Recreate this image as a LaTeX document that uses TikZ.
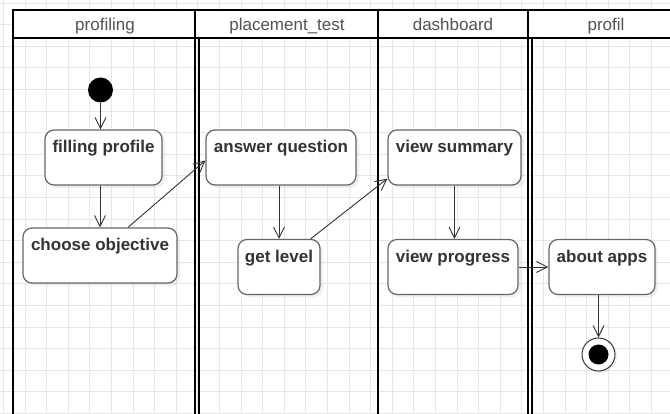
\documentclass[tikz,border=0pt]{standalone}
\usepackage{fontspec}
\setmainfont{Liberation Sans}
\usetikzlibrary{arrows.meta,shadows}

\definecolor{gridgray}{HTML}{E6E6E6}
\definecolor{boxgray}{HTML}{666666}
\definecolor{inkgray}{HTML}{333333}

\tikzset{
	lane/.style={line width=2pt},
	lanetitle/.style={font=\fontsize{17}{19}\selectfont, text=inkgray!85, anchor=base},
	act/.style={draw=boxgray, line width=1.2pt, fill=white, rounded corners=9pt,
		font=\fontsize{17}{19}\selectfont\bfseries, text=inkgray,
		inner ysep=0pt, text height=23pt, text depth=32pt,
		drop shadow={opacity=0.12, shadow xshift=3pt, shadow yshift=-3pt}},
	flow/.style={draw=inkgray, line width=0.9pt, -{Straight Barb[length=11pt,width=11pt]}}
}

\begin{document}
\begin{tikzpicture}[x=1pt,y=-1pt]
	\useasboundingbox (0,0) rectangle (670,414);
	% background grid
	\foreach \i in {0,...,31}
		\draw[gridgray, line width=0.8pt] ({3.4+21.6*\i},0) -- ++(0,414);
	\foreach \i in {0,...,19}
		\draw[gridgray, line width=0.8pt] (0,{3+21.6*\i}) -- ++(670,0);

	% header row
	\draw[lane, fill=white] (13,10.5) rectangle (690,38.5);
	\foreach \x in {195,378,528}
		\draw[lane] (\x,10.5) -- (\x,38.5);
	\node[lanetitle] (tprofiling) at (105,31) {profiling};
	\node[lanetitle] (tplacement) at (287,31) {placement\_test};
	\node[lanetitle] (tdashboard) at (453,31) {dashboard};
	\node[lanetitle] (tprofil) at (606,31) {profil};

	% lane borders
	\foreach \x in {13,195,199,378,528,531.5}
		\draw[lane] (\x,38.5) -- (\x,420);

	% start and end
	\node[circle, fill=black, minimum size=25pt, inner sep=0pt] (start) at (100.5,90) {};
	\node[circle, draw=inkgray, line width=1pt, fill=white, minimum size=33pt, inner sep=0pt,
		drop shadow={opacity=0.12, shadow xshift=2pt, shadow yshift=-2pt}] (end) at (598.5,354.5) {};
	\node[circle, fill=black, minimum size=20pt, inner sep=0pt] (enddot) at (end) {};

	% activities
	\node[act, minimum width=117pt] (fill) at (103.5,157.5) {filling profile};
	\node[act, minimum width=154pt] (choose) at (100,255.5) {choose objective};
	\node[act, minimum width=150pt] (answer) at (281,157.5) {answer question};
	\node[act, minimum width=82pt] (level) at (279,267) {get level};
	\node[act, minimum width=133pt] (summary) at (454.5,157.5) {view summary};
	\node[act, minimum width=130pt] (progress) at (453,267) {view progress};
	\node[act, minimum width=106pt] (about) at (602,267) {about apps};

	% transitions
	\draw[flow] (start) -- (start |- fill.north);
	\draw[flow] (fill.south -| choose) -- (choose.north);
	\draw[flow] ([xshift=28pt]choose.north) -- ([yshift=-3pt]answer.west);
	\draw[flow] (answer.south -| level) -- (level.north);
	\draw[flow] ([xshift=-10pt]level.north east) -- ([yshift=7pt]summary.south west);
	\draw[flow] (summary.south) -- (summary.south |- progress.north);
	\draw[flow] (progress) -- (about);
	\draw[flow] (about.south -| end) -- (end);
\end{tikzpicture}
\end{document}
